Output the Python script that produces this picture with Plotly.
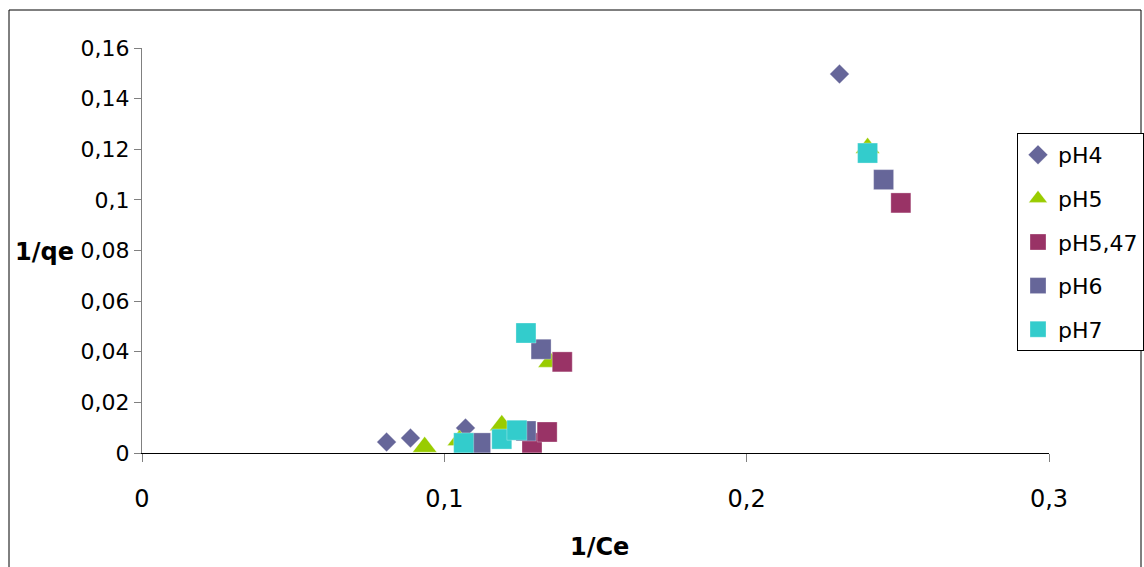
import plotly.graph_objects as go

# Data (1/Ce, 1/qe)
series_names = ["pH4", "pH5", "pH5,47", "pH6", "pH7"]
ph4_x = [0.0809, 0.0888, 0.1070, 0.2307]
ph4_y = [0.0043, 0.0059, 0.0099, 0.1497]
ph5_x = [0.0935, 0.1050, 0.1190, 0.1350, 0.2400]
ph5_y = [0.0024, 0.0050, 0.0110, 0.0360, 0.1205]
ph547_x = [0.1290, 0.1340, 0.1390, 0.2510]
ph547_y = [0.0040, 0.0083, 0.0360, 0.0988]
ph6_x = [0.1120, 0.1270, 0.1320, 0.2453]
ph6_y = [0.0040, 0.0087, 0.0410, 0.1080]
ph7_x = [0.1064, 0.1190, 0.1240, 0.1270, 0.2400]
ph7_y = [0.0040, 0.0055, 0.0090, 0.0474, 0.1185]

x_tickvals = [0, 0.1, 0.2, 0.3]
x_ticktext = ["0", "0,1", "0,2", "0,3"]
y_tickvals = [0, 0.02, 0.04, 0.06, 0.08, 0.10, 0.12, 0.14, 0.16]
y_ticktext = ["0", "0,02", "0,04", "0,06", "0,08", "0,1", "0,12", "0,14", "0,16"]

FONT = "DejaVu Sans"

xs = [ph4_x, ph5_x, ph547_x, ph6_x, ph7_x]
ys = [ph4_y, ph5_y, ph547_y, ph6_y, ph7_y]
colors = ["#666699", "#99CC00", "#993366", "#666699", "#33CCCC"]
symbols = ["diamond", "triangle-up", "square", "square", "square"]
sizes = [15, 21, 20, 20, 20]

fig = go.Figure()
for name, x, y, c, s, sz in zip(series_names, xs, ys, colors, symbols, sizes):
    fig.add_trace(go.Scatter(
        x=x, y=y, mode="markers", name=name, legendgroup=name,
        marker=dict(color=c, symbol=s, size=sz, line=dict(color="rgba(255,255,255,0.6)", width=0.5)),
        cliponaxis=False,
    ))

W, H = 1144, 567
L, T = 142, 48
PW, PH = 907, 405

def px(xpix):  # page x -> paper x
    return (xpix - L) / PW

def py(ypix):  # page y -> paper y
    return (T + PH - ypix) / PH

fig.update_layout(
    width=W, height=H,
    margin=dict(l=L, r=W - L - PW, t=T, b=H - T - PH, autoexpand=False),
    paper_bgcolor="white", plot_bgcolor="white",
    font=dict(family=FONT, size=20, color="black"),
    showlegend=True,
    legend=dict(
        x=px(1017), y=py(133), xanchor="left", yanchor="top",
        bgcolor="white", bordercolor="black", borderwidth=1,
        font=dict(family=FONT, size=22, color="black"),
        tracegroupgap=12, itemsizing="trace",
    ),
    xaxis=dict(
        range=[0, 0.3], tickvals=x_tickvals, ticktext=x_ticktext,
        showgrid=False, zeroline=False, showline=True, linecolor="black", linewidth=1,
        ticks="outside", ticklen=8, tickcolor="#808080",
        ticklabelstandoff=16, tickfont=dict(size=24),
    ),
    yaxis=dict(
        range=[0, 0.16], tickvals=y_tickvals, ticktext=y_ticktext,
        showgrid=False, zeroline=False, showline=True, linecolor="#808080", linewidth=1,
        ticks="outside", ticklen=7, tickcolor="#808080",
        tickfont=dict(size=22),
    ),
    annotations=[
        dict(text="<b>1/qe</b>", xref="paper", yref="paper", x=px(76), y=py(252),
             xanchor="right", yanchor="middle", showarrow=False,
             font=dict(family=FONT, size=24)),
        dict(text="<b>1/Ce</b>", xref="paper", yref="paper", x=px(599), y=py(547),
             xanchor="center", yanchor="middle", showarrow=False,
             font=dict(family=FONT, size=24)),
    ],
    shapes=[
        dict(type="rect", xref="paper", yref="paper", x0=px(9), x1=px(1141), y0=py(600), y1=py(10),
             line=dict(color="black", width=1), fillcolor="rgba(0,0,0,0)", layer="below"),
    ],
)

fig.write_html(
    "out.html",
    config={"responsive": False, "displayModeBar": False},
    post_script="document.body.style.margin='0';document.body.style.overflow='hidden';",
)
